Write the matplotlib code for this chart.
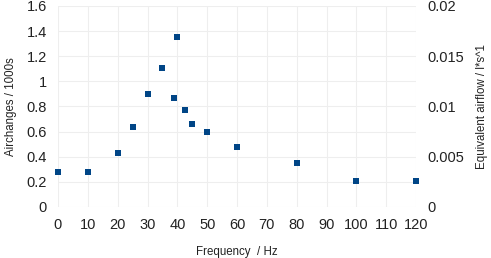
import matplotlib
matplotlib.use('Agg')
import matplotlib.pyplot as plt
import numpy as np

# measured points
freq_hz = [0, 10, 20, 25, 30, 35, 39, 40, 42.5, 45, 50, 60, 80, 100, 120]
airchanges = [0.281, 0.275, 0.432, 0.633, 0.903, 1.105, 0.871, 1.353, 0.771, 0.657, 0.596, 0.477, 0.347, 0.209, 0.204]

x_ticks = np.arange(0, 121, 10)
y_ticks = [0, 0.2, 0.4, 0.6, 0.8, 1, 1.2, 1.4, 1.6]
y_tick_labels = ['0', '0.2', '0.4', '0.6', '0.8', '1', '1.2', '1.4', '1.6']
y2_ticks = [0, 0.005, 0.01, 0.015, 0.02]
y2_tick_labels = ['0', '0.005', '0.01', '0.015', '0.02']

plt.rcParams['font.family'] = 'Liberation Sans'

fig = plt.figure(figsize=(4.91, 2.58), dpi=100)
ax = fig.add_axes([58 / 491, 51 / 258, 358 / 491, 201 / 258])
ax.scatter(freq_hz, airchanges, marker='s', s=18, c='#004586', zorder=3,
           linewidths=0, clip_on=False)

ax.set_xlim(0, 120)
ax.set_ylim(0, 1.6)
ax.set_xticks(x_ticks)
ax.set_yticks(y_ticks)
ax.set_yticklabels(y_tick_labels)
ax.grid(True, color='#eeeeee', linewidth=0.8)
ax.set_axisbelow(True)
for s in ax.spines.values():
    s.set_visible(False)
ax.tick_params(length=0, labelsize=10.5, colors='#222222', pad=8)
ax.set_xlabel('Frequency  / Hz', fontsize=8.3, color='#222222', labelpad=10)
ax.set_ylabel('Airchanges / 1000s', fontsize=8.3, color='#222222', labelpad=7)

ax2 = ax.twinx()
ax2.set_ylim(0, 0.02)
ax2.set_yticks(y2_ticks)
ax2.set_yticklabels(y2_tick_labels)
for s in ax2.spines.values():
    s.set_visible(False)
ax2.tick_params(length=0, labelsize=10.5, colors='#222222', pad=8)
ax2.set_ylabel('Equivalent airflow / l*s^1', fontsize=8.3, color='#222222', labelpad=9)

fig.savefig('out.png', dpi=100)
